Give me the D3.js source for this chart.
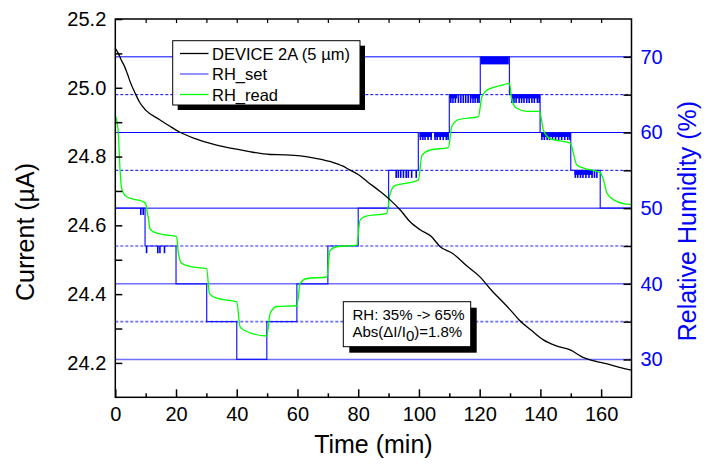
<!DOCTYPE html>
<html><head><meta charset="utf-8">
<script src="https://cdn.jsdelivr.net/npm/d3@7"></script>
<style>
html,body{margin:0;padding:0;background:#fff;}
text{font-family:"Liberation Sans",Arial,sans-serif;}
</style></head>
<body><svg id="chart" width="706" height="468"></svg>
<script>
// ---- data ----
const devTime = [0,1,2,3,4,5,6.5,8,10,14.5,18,21,26,31,36,42,51,56,61,66,71,75,77,80,83,87,90.5,94,97,100.4,104,107,111,116,120,124,127,130,133,137,141,145,150,154,158,162,166,170];
const devCurrent = [25.115,25.10,25.08,25.063,25.04,25.015,24.985,24.958,24.935,24.908,24.888,24.872,24.853,24.839,24.828,24.818,24.806,24.805,24.802,24.795,24.785,24.772,24.762,24.748,24.727,24.70,24.674,24.643,24.611,24.587,24.568,24.538,24.519,24.48,24.451,24.41,24.383,24.355,24.325,24.295,24.267,24.25,24.237,24.216,24.205,24.197,24.187,24.179];

const readTime = [0,0.5,1,1.5,2.1,3,3.8,5.9,9.2,10,10.5,10.9,11.4,12.5,15.8,19.7,20.2,20.8,21.9,24.6,30.1,31,33.4,40,41.1,43.3,49.9,51,53.2,59.8,60.9,63.1,69.7,70.7,72.9,79.5,80.6,82.3,89.4,90.5,92.2,96,99.8,101,103.8,109.7,110.8,113,119.6,120.7,122.4,127.8,129.8,130.6,132.2,135.6,139.7,141,143.2,149.8,152,154.2,159.7,160.8,161.9,164.1,169.6,170];
const rhRead = [62.3,61.5,59.9,55.5,52.6,51.8,51.5,51.2,50.85,50.6,49.5,48.7,47.3,46.9,46.5,46.3,46.2,44.0,42.7,42.3,42.0,38.7,38.1,37.6,34.3,33.7,33.1,36.1,37.0,37.1,40.1,40.7,40.9,44.4,44.9,45.1,48.4,48.9,49.3,51.9,53.0,53.3,53.7,57.0,57.7,58.0,60.8,61.7,62.1,64.7,65.6,66.3,66.5,64.3,63.2,62.8,62.8,60.3,59.2,58.6,55.7,55.3,54.7,53.7,52.0,51.1,50.5,50.5];

const setTime = [0,9.8,20,30.1,40,49.9,59.8,70,80,90,99.8,110,120.2,129.8,139.9,150,159.7,170];
const setLevel = [50,45,40,35,30,35,40,45,50,55,60,65,70,65,60,55,50,50];

// glitch bands on RH_set: [tStart, tEnd, level, depth]
const setBands = [[100.2,104.3,60,0.6],[105,109.8,60,0.6],[110.1,112.6,65,0.5],[117.2,120,65,0.5],[120.3,129.6,70,1.0],[130.3,139.9,65,0.5],[140.2,150,60,0.6],[151.2,157.2,55,0.6]];
// glitch spikes on RH_set: [t, level, depth]
const setSpikes = [[8.4,50,0.9],[9.2,50,0.9],[10.3,45,0.95],[14,45,0.95],[14.7,45,0.95],[16.2,45,0.95],
 [92.5,55,1],[93.2,55,1],[94,55,1],[94.9,55,1],[95.8,55,1],[96.5,55,1],[97.6,55,1],[99.1,55,1],
 [100.5,60,1],[101.3,60,1],[102,60,1],[103,60,1],[104,60,1],[105.3,60,1],[106,60,1],[107,60,1],[108,60,1],[109,60,1],[109.6,60,1],
 [110.5,65,1.1],[111.2,65,1.1],[112,65,1.1],[113,65,1.1],[113.8,65,1.1],[114.6,65,1.1],[115.4,65,1.1],[116.2,65,1.1],[117,65,1.1],[117.8,65,1.1],[118.5,65,1.1],[119.3,65,1.1],[119.8,65,1.1],
 [130.6,65,1.1],[131.3,65,1.1],[132,65,1.1],[133,65,1.1],[133.8,65,1.1],[134.6,65,1.1],[135.5,65,1.1],[136.3,65,1.1],[137.2,65,1.1],[138,65,1.1],[139,65,1.1],[139.6,65,1.1],
 [140.5,60,1],[141.3,60,1],[142.2,60,1],[143,60,1],[144,60,1],[145,60,1],[146,60,1],[147,60,1],[148,60,1],[149,60,1],[149.7,60,1],
 [151.5,55,1],[152.3,55,1],[153.2,55,1],[154,55,1],[155,55,1],[156,55,1],[157,55,1],[157.8,55,1],[158.6,55,1]];

const xTicks = [0,20,40,60,80,100,120,140,160];
const yLeftTicks = [24.2,24.4,24.6,24.8,25.0,25.2];
const yRightTicks = [30,40,50,60,70];
const gridLevels = [30,35,40,45,50,55,60,65,70];

// ---- layout ----
const svg = d3.select('#chart');
const L = 115.3, R = 631.5, T = 19, B = 397.3;
const x = d3.scaleLinear().domain([0,170]).range([L,R]);
const yL = d3.scaleLinear().domain([24.1,25.2]).range([B,T]);
const yR = d3.scaleLinear().domain([25,75]).range([B,T]);
const BLUE = '#0000ff', LBLUE = '#6f6fff';

// grid lines
svg.append('g').selectAll('line').data(gridLevels).join('line')
  .attr('x1',L).attr('x2',R)
  .attr('y1',d=>yR(d)).attr('y2',d=>yR(d))
  .attr('stroke',d=> d>=50 ? BLUE : LBLUE)
  .attr('stroke-width',d=> d>=50 ? 1 : 1.6)
  .attr('stroke-dasharray',d=> d%10===5 ? '3,2' : null);

// RH_set step line
const setData = setTime.map((t,i)=>({t, v:setLevel[i]}));
svg.append('path').datum(setData)
  .attr('fill','none').attr('stroke','#1a1aff').attr('stroke-width',1.2)
  .attr('d', d3.line().x(d=>x(d.t)).y(d=>yR(d.v)).curve(d3.curveStepAfter));

svg.append('g').selectAll('rect').data(setBands).join('rect')
  .attr('x',d=>x(d[0])).attr('width',d=>x(d[1])-x(d[0]))
  .attr('y',d=>yR(d[2])).attr('height',d=>yR(d[2]-d[3])-yR(d[2]))
  .attr('fill',BLUE);
svg.append('g').selectAll('line').data(setSpikes).join('line')
  .attr('x1',d=>x(d[0])).attr('x2',d=>x(d[0]))
  .attr('y1',d=>yR(d[1])).attr('y2',d=>yR(d[1]-d[2]))
  .attr('stroke',BLUE).attr('stroke-width',1.6);

// RH_read
svg.append('path').datum(readTime.map((t,i)=>({t,v:rhRead[i]})))
  .attr('fill','none').attr('stroke','#00ff00').attr('stroke-width',1.3)
  .attr('d', d3.line().x(d=>x(d.t)).y(d=>yR(d.v)).curve(d3.curveMonotoneX));

// Device current
svg.append('path').datum(devTime.map((t,i)=>({t,v:devCurrent[i]})))
  .attr('fill','none').attr('stroke','#000').attr('stroke-width',1.3)
  .attr('d', d3.line().x(d=>x(d.t)).y(d=>yL(d.v)).curve(d3.curveMonotoneX));

// frame
svg.append('rect').attr('x',L).attr('y',T).attr('width',R-L).attr('height',B-T)
  .attr('fill','none').attr('stroke','#000').attr('stroke-width',1.5);

// axes (inward ticks)
const font = '"Liberation Sans",Arial,sans-serif';
function styleAxis(g, color){
  g.select('.domain').remove();
  g.selectAll('.tick line').attr('stroke', color||'#000').attr('stroke-width',1.5);
  g.selectAll('.tick text').attr('font-family',font).attr('font-size',20).attr('fill',color||'#000');
}
// bottom
const gx = svg.append('g').attr('transform',`translate(0,${B})`)
  .call(d3.axisBottom(x).tickValues(xTicks).tickSize(-8).tickPadding(10).tickFormat(d3.format('d')));
styleAxis(gx);
svg.append('g').attr('transform',`translate(0,${B})`)
  .call(d3.axisBottom(x).tickValues(d3.range(10,170,20)).tickSize(-4).tickFormat(''))
  .call(g=>{g.select('.domain').remove(); g.selectAll('line').attr('stroke','#000').attr('stroke-width',1.5);});
// top
svg.append('g').attr('transform',`translate(0,${T})`)
  .call(d3.axisTop(x).tickValues(d3.range(10,170,10)).tickSize(-4).tickFormat(''))
  .call(g=>{g.select('.domain').remove(); g.selectAll('line').attr('stroke','#000').attr('stroke-width',1.2);});
// left
const gyl = svg.append('g').attr('transform',`translate(${L},0)`)
  .call(d3.axisLeft(yL).tickValues(yLeftTicks).tickSize(-7).tickPadding(9).tickFormat(d3.format('.1f')));
styleAxis(gyl);
svg.append('g').attr('transform',`translate(${L},0)`)
  .call(d3.axisLeft(yL).tickValues([24.3,24.5,24.7,24.9,25.1]).tickSize(-7).tickFormat(''))
  .call(g=>{g.select('.domain').remove(); g.selectAll('line').attr('stroke','#000').attr('stroke-width',1.5);});
// right
const gyr = svg.append('g').attr('transform',`translate(${R},0)`)
  .call(d3.axisRight(yR).tickValues(yRightTicks).tickSize(-8).tickPadding(9).tickFormat(d3.format('d')));
styleAxis(gyr, BLUE);
gyr.selectAll('.tick line').attr('stroke','#000');
svg.append('g').attr('transform',`translate(${R},0)`)
  .call(d3.axisRight(yR).tickValues([35,45,55,65]).tickSize(-8).tickFormat(''))
  .call(g=>{g.select('.domain').remove(); g.selectAll('line').attr('stroke','#000').attr('stroke-width',1.5);});

// axis titles
svg.append('text').attr('x',(L+R)/2).attr('y',453).attr('text-anchor','middle')
  .attr('font-size',25).attr('font-family',font).text('Time (min)');
svg.append('text').attr('transform',`translate(34,232) rotate(-90)`).attr('text-anchor','middle')
  .attr('font-size',25).attr('font-family',font).text('Current (\u00b5A)');
svg.append('text').attr('transform',`translate(696,${(T+B)/2 + 13}) rotate(-90)`).attr('text-anchor','middle')
  .attr('font-size',25).attr('font-family',font).attr('fill',BLUE).text('Relative Humidity (%)');

// legend
const lg = svg.append('g');
const lx = 172.7, ly = 40.7, lw = 187.3, lh = 64.3;
lg.append('rect').attr('x',lx+5).attr('y',ly+5).attr('width',lw).attr('height',lh).attr('fill','#000');
lg.append('rect').attr('x',lx).attr('y',ly).attr('width',lw).attr('height',lh).attr('fill','#fff').attr('stroke','#000').attr('stroke-width',1);
const legendNames = ['DEVICE 2A (5 \u00b5m)','RH_set','RH_read'];
const legendColors = ['#000','#5a5aff','#00ff00'];
legendNames.forEach((n,i)=>{
  const yy = 53.5 + i*20.5;
  lg.append('line').attr('x1',180).attr('x2',208.5).attr('y1',yy).attr('y2',yy).attr('stroke',legendColors[i]).attr('stroke-width',1.3);
  lg.append('text').attr('x',212).attr('y',yy+6).attr('font-size',16.5).attr('font-family',font).text(n);
});

// annotation
const ax = 343.3, ay = 301.7, aw = 127.4, ah = 45;
svg.append('rect').attr('x',ax+6).attr('y',ay+6).attr('width',aw).attr('height',ah).attr('fill','#000');
svg.append('rect').attr('x',ax).attr('y',ay).attr('width',aw).attr('height',ah).attr('fill','#fff').attr('stroke','#000').attr('stroke-width',1);
svg.append('text').attr('x',352.5).attr('y',319.5).attr('font-size',15).attr('font-family',font).text('RH: 35% -> 65%');
const t2 = svg.append('text').attr('x',352.5).attr('y',337).attr('font-size',15).attr('font-family',font);
t2.append('tspan').text('Abs(\u0394I/I');
t2.append('tspan').attr('dy',4).attr('font-size',15).text('0');
t2.append('tspan').attr('dy',-4).text(')=1.8%');
</script></body></html>
